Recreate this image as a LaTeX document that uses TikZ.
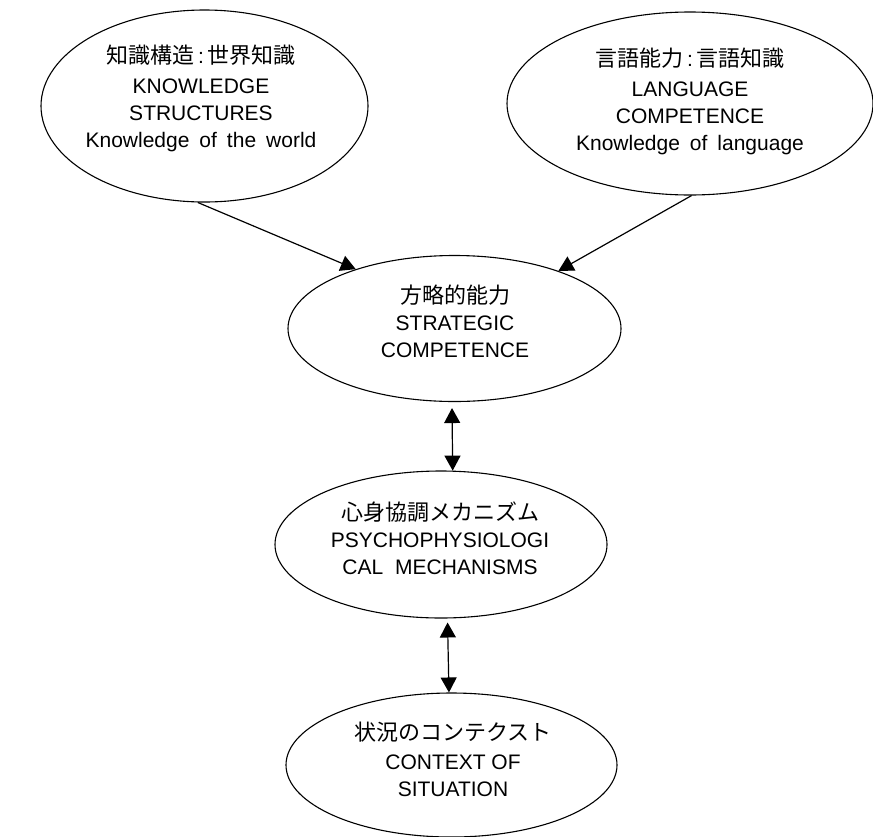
\documentclass[tikz,border=0pt]{standalone}
\usepackage{fontspec}
\setmainfont{Liberation Sans}
\newfontfamily\cjk{Noto Sans CJK JP}
\usetikzlibrary{shapes.geometric,arrows.meta}
\newcommand\wsp{\hspace{10pt}}
\newcommand\jline[1]{{\cjk\fontsize{22}{27}\selectfont #1}}
\begin{document}
\begin{tikzpicture}[x=1pt,y=-1pt,
  oval/.style={draw, ellipse, line width=1.1pt, inner sep=0pt},
  txt/.style={align=center, font=\fontsize{21}{27}\selectfont, inner sep=0pt},
  conn/.style={line width=1.2pt, -{Triangle[length=15pt,width=16pt]}},
  both/.style={line width=1.2pt, {Triangle[length=15pt,width=16pt]}-{Triangle[length=15pt,width=16pt]}}]
\useasboundingbox (0,0) rectangle (873,836);
% ellipses
\node[oval, minimum width=327pt, minimum height=192pt] (e1) at (204.5,106) {};
\node[oval, minimum width=366pt, minimum height=183pt] (e2) at (690,103.5) {};
\node[oval, minimum width=333pt, minimum height=146pt] (e3) at (454.5,328.5) {};
\node[oval, minimum width=332pt, minimum height=147pt] (e4) at (441,544.5) {};
\node[oval, minimum width=331pt, minimum height=144pt] (e5) at (451.5,765) {};
% texts
\node[txt] (t1) at (201,98.5) {\jline{知識構造}\hspace{4pt}:\hspace{4pt}\jline{世界知識}\\[3pt] KNOWLEDGE\\ STRUCTURES\\ Knowledge\wsp of\wsp the\wsp world};
\node[txt] (t2) at (690,101) {\jline{言語能力}\hspace{4pt}:\hspace{4pt}\jline{言語知識}\\[3pt] LANGUAGE\\ COMPETENCE\\ Knowledge\wsp of\wsp language};
\node[txt] (t3) at (455,321.5) {\jline{方略的能力}\\[0pt] STRATEGIC\\ COMPETENCE};
\node[txt] (t4) at (440,538) {\jline{心身協調メカニズム}\\[0pt] PSYCHOPHYSIOLOGI\\ CAL\hspace{12pt}MECHANISMS};
\node[txt] (t5) at (453,759) {\jline{状況のコンテクスト}\\[2pt] CONTEXT OF\\ SITUATION};
% connectors
\draw[conn] (e1.266.2) -- (e3.149.2);
\draw[conn] (e2.271.2) -- (e3.29.4);
\draw[both, shorten <=6pt] (e3.268.7) -- (e4.81.7);
\draw[both, shorten <=4pt] (e4.275.4) -- (e5.92.8);
\end{tikzpicture}
\end{document}
